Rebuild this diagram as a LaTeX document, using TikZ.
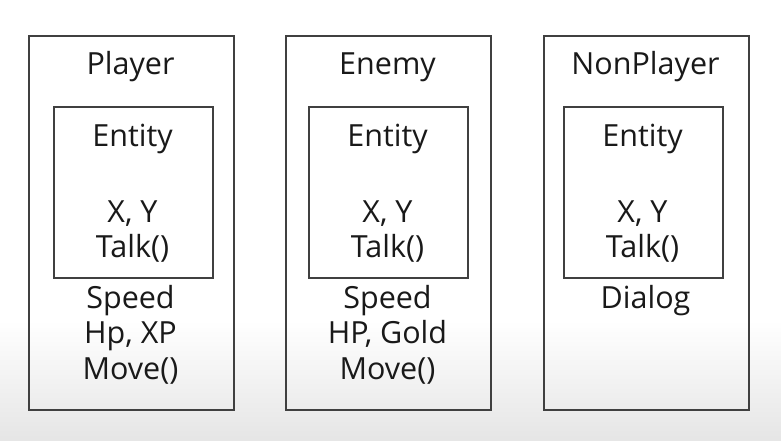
\documentclass[tikz,border=0pt]{standalone}
\usepackage{fontspec}
\setmainfont{Open Sans}
\colorlet{boxline}{black!75}
\colorlet{boxtext}{black!90}
\tikzset{
  every node/.style={font=\fontsize{30.5}{36}\selectfont, text=boxtext},
  classbox/.style={draw=boxline, line width=1.5pt, inner sep=0pt, anchor=north west},
  member/.style={anchor=base, inner sep=0pt}
}
\def\OuterW{205}
\def\OuterH{374}
\def\InnerW{159}
\def\InnerH{171}

\begin{document}
\begin{tikzpicture}[x=1pt, y=-1pt]
  % background with soft shade at the bottom
  \useasboundingbox (0,0) rectangle (781,440);
  \fill[white] (0,0) rectangle (781,321);
  \shade[top color=white, bottom color=black!10] (0,320) rectangle (781,440);

  %%%%%%%%%%%%%%%%%%%%%%%%%%%%%%%%%%%%%%%%%%%%%%%%%%%%%%%%%%%%%%%%%%%%%%%%
  % Player
  \node[classbox, minimum width=\OuterW, minimum height=\OuterH] (player) at (28,35) {};
  \node[classbox, minimum width=\InnerW, minimum height=\InnerH] (playerEnt) at (53,106) {};
  \node[member] (playerName) at (130.5,74) {Player};
  \node[member] (playerEntName) at (132.5,146) {Entity};
  \node[member] (playerXY) at (132.5,222) {X, Y};
  \node[member] (playerTalk) at (132.5,257) {Talk()};
  \node[member] (playerSpeed) at (130.5,308) {Speed};
  \node[member] (playerHp) at (130.5,343) {Hp, XP};
  \node[member] (playerMove) at (130.5,379) {Move()};

  %%%%%%%%%%%%%%%%%%%%%%%%%%%%%%%%%%%%%%%%%%%%%%%%%%%%%%%%%%%%%%%%%%%%%%%%
  % Enemy
  \node[classbox, minimum width=\OuterW, minimum height=\OuterH] (enemy) at (285,35) {};
  \node[classbox, minimum width=\InnerW, minimum height=\InnerH] (enemyEnt) at (308,106) {};
  \node[member] (enemyName) at (387.5,74) {Enemy};
  \node[member] (enemyEntName) at (387.5,146) {Entity};
  \node[member] (enemyXY) at (387.5,222) {X, Y};
  \node[member] (enemyTalk) at (387.5,257) {Talk()};
  \node[member] (enemySpeed) at (387.5,308) {Speed};
  \node[member] (enemyHp) at (387.5,343) {HP, Gold};
  \node[member] (enemyMove) at (387.5,379) {Move()};

  %%%%%%%%%%%%%%%%%%%%%%%%%%%%%%%%%%%%%%%%%%%%%%%%%%%%%%%%%%%%%%%%%%%%%%%%
  % NonPlayer
  \node[classbox, minimum width=\OuterW, minimum height=\OuterH] (npc) at (543,35) {};
  \node[classbox, minimum width=\InnerW, minimum height=\InnerH] (npcEnt) at (563,106) {};
  \node[member] (npcName) at (645.5,74) {NonPlayer};
  \node[member] (npcEntName) at (642.5,146) {Entity};
  \node[member] (npcXY) at (642.5,222) {X, Y};
  \node[member] (npcTalk) at (642.5,257) {Talk()};
  \node[member] (npcDialog) at (645.5,308) {Dialog};
\end{tikzpicture}
\end{document}
